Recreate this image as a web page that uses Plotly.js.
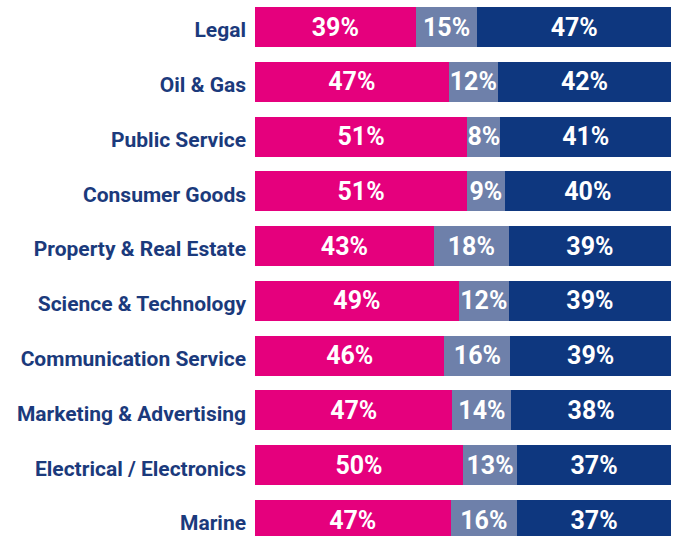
<!DOCTYPE html>
<html><head><meta charset="utf-8">
<script src="https://cdn.plot.ly/plotly-3.0.1.min.js"></script>
<style>html,body{margin:0;padding:0;background:#fff}#chart{width:675px;height:536px}</style>
</head><body><div id="chart"></div>
<script>
const categories = ["Legal","Oil & Gas","Public Service","Consumer Goods","Property & Real Estate","Science & Technology","Communication Service","Marketing & Advertising","Electrical / Electronics","Marine"];
const seriesA = [39,47,51,51,43,49,46,47,50,47];
const seriesB = [15,12,8,9,18,12,16,14,13,16];
const seriesC = [47,42,41,40,39,39,39,38,37,37];
const colors = ["#E5007D","#6E80AA","#0E377F"];

function mk(vals, color){
  return {
    type:'bar', orientation:'h', y:categories, x:vals,
    marker:{color:color, line:{width:0}},
    text: vals.map(v=>v+'%'), texttemplate:'%{text}',
    textposition:'inside', insidetextanchor:'middle', textangle:0,
    constraintext:'none', cliponaxis:false,
    textfont:{family:'Roboto', size:25, color:'#ffffff', weight:700},
    hoverinfo:'skip', width:0.73
  };
}
const data = [mk(seriesA,colors[0]), mk(seriesB,colors[1]), mk(seriesC,colors[2])];
const layout = {
  width:675, height:536, barmode:'stack', barnorm:'percent',
  margin:{l:255,r:4,t:0,b:0}, showlegend:false,
  paper_bgcolor:'#fff', plot_bgcolor:'#fff',
  xaxis:{range:[0,100], visible:false, fixedrange:true},
  yaxis:{type:'category', range:[9.292,-0.493], showgrid:false, zeroline:false, showline:false,
    ticks:'', ticklabelstandoff:8, ticklabelshift:-3,
    tickfont:{family:'Roboto', size:21, color:'#1B3A7C', weight:700}},
};
Plotly.newPlot('chart', data, layout, {staticPlot:true, displayModeBar:false});
</script></body></html>
